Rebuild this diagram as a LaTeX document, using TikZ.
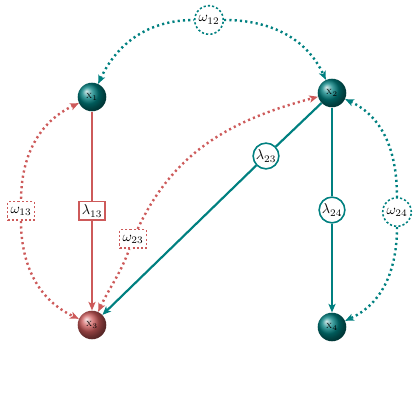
\documentclass[tikz,border=0pt]{standalone}
\usetikzlibrary{arrows.meta}
\definecolor{tealc}{RGB}{0,128,128}
\definecolor{redc}{RGB}{205,90,90}
\tikzset{
  ballt/.style={circle,minimum size=20pt,inner sep=0pt,ball color=tealc,font=\scriptsize},
  ballr/.style={circle,minimum size=20pt,inner sep=0pt,ball color=redc,font=\scriptsize},
  lamr/.style={draw=redc,fill=white,line width=1.1pt,rectangle,inner sep=2pt,minimum height=13pt},
  lamt/.style={draw=tealc,fill=white,line width=1.1pt,circle,inner sep=0.5pt,minimum size=18pt},
  omr/.style={draw=redc,fill=white,line width=1.1pt,dash pattern=on 1.5pt off 1.5pt,rectangle,inner sep=2pt,minimum height=13pt},
  omt/.style={draw=tealc,fill=white,line width=1.1pt,dash pattern=on 1.5pt off 1.5pt,circle,inner sep=0.5pt,minimum size=20pt},
  tipend/.style={-{Stealth[length=6pt,width=5pt,inset=1.5pt]}},
  tipstart/.style={{Stealth[length=6pt,width=5pt,inset=1.5pt]}-},
  solr/.style={draw=redc,line width=1.5pt},
  solt/.style={draw=tealc,line width=1.5pt},
  dotr/.style={draw=redc,line width=1.7pt,dash pattern=on 1.5pt off 2.2pt},
  dott/.style={draw=tealc,line width=1.7pt,dash pattern=on 1.5pt off 2.2pt},
}
\begin{document}
\begin{tikzpicture}[x=0.7pt,y=0.7pt]
\useasboundingbox (0,0) rectangle (420,420);
\node[ballt] (x1) at (92,323) {\textsc{x}$_1$};
\node[ballt] (x2) at (332,327) {\textsc{x}$_2$};
\node[ballr] (x3) at (92,95) {\textsc{x}$_3$};
\node[ballt] (x4) at (332,93) {\textsc{x}$_4$};
\node[omt] (w12) at (209,400) {$\omega_{12}$};
\node[omr] (w13) at (21,209) {$\omega_{13}$};
\node[omr] (w23) at (133,181) {$\omega_{23}$};
\node[omt] (w24) at (397,208) {$\omega_{24}$};
\node[lamr] (l13) at (92,209) {$\lambda_{13}$};
\node[lamt] (l23) at (266,264) {$\lambda_{23}$};
\node[lamt] (l24) at (332,210) {$\lambda_{24}$};
\draw[solr] (x1) -- (l13);
\draw[solr,tipend] (l13) -- (x3);
\draw[solt] (x2) -- (l23);
\draw[solt,tipend] (l23) -- (x3);
\draw[solt] (x2) -- (l24);
\draw[solt,tipend] (l24) -- (x4);
\draw[dott,tipstart] (x1) to[out=65,in=180] (w12);
\draw[dott,tipend] (w12) to[out=0,in=115] (x2);
\draw[dotr,tipstart] (x1) to[out=205,in=90] (w13);
\draw[dotr,tipend] (w13) to[out=-90,in=155] (x3);
\draw[dotr,tipstart] (x3) to[out=65,in=250] (w23);
\draw[dotr,tipend] (w23) to[out=65,in=195] (x2);
\draw[dott,tipstart] (x2) to[out=-25,in=90] (w24);
\draw[dott,tipend] (w24) to[out=-90,in=25] (x4);
\end{tikzpicture}
\end{document}
